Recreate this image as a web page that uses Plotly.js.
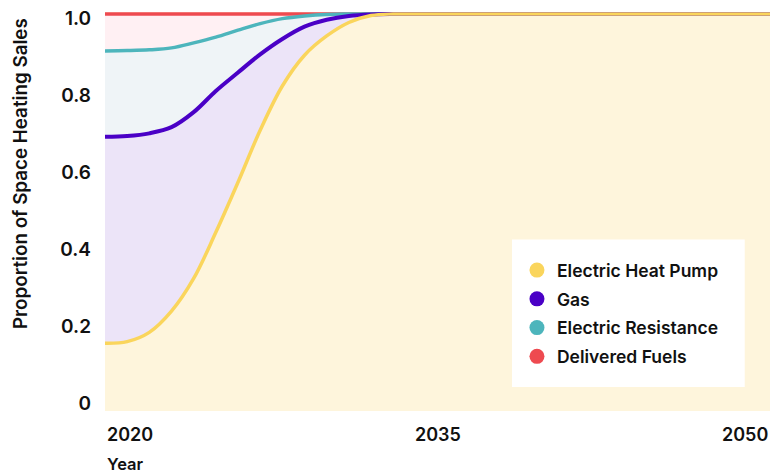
<!DOCTYPE html>
<html>
<head>
<meta charset="utf-8">
<script src="https://cdn.plot.ly/plotly-3.0.1.min.js"></script>
<style>html,body{margin:0;padding:0;background:#fff;}#chart{width:773px;height:475px;}</style>
</head>
<body>
<div id="chart"></div>
<script>
// Years
const years = [];
for (let y = 2020; y <= 2050; y++) years.push(y);

// Shares of space heating sales by technology
const heatPump   = [0.145,0.149,0.173,0.228,0.313,0.433,0.563,0.698,0.813,0.893,0.943,0.978,0.996,1,1,1,1,1,1,1,1,1,1,1,1,1,1,1,1,1,1];
const gas        = [0.536,0.534,0.517,0.478,0.432,0.367,0.285,0.197,0.122,0.074,0.042,0.017,0.003,0,0,0,0,0,0,0,0,0,0,0,0,0,0,0,0,0,0];
const resistance = [0.223,0.222,0.217,0.206,0.180,0.140,0.110,0.080,0.053,0.028,0.014,0.005,0.001,0,0,0,0,0,0,0,0,0,0,0,0,0,0,0,0,0,0];
const delivered  = [0.096,0.095,0.093,0.088,0.075,0.060,0.042,0.025,0.012,0.005,0.001,0,0,0,0,0,0,0,0,0,0,0,0,0,0,0,0,0,0,0,0];

const seriesNames = ['Electric Heat Pump','Gas','Electric Resistance','Delivered Fuels'];
const xTickVals = [2020, 2035, 2050];
const xTickText = ['2020', '2035', '2050'];
const yTickVals = [0, 0.2, 0.4, 0.6, 0.8, 1.0];
const yTickText = ['0', '0.2', '0.4', '0.6', '0.8', '1.0'];

const lineColors = ['#FAD55C', '#4A00C6', '#4DB5BC', '#EE4A50'];
const fillColors = ['#FEF5DC', '#ECE4F8', '#EFF4F7', '#FFF0F3'];
const shares = [heatPump, gas, resistance, delivered];

const FONT = 'Inter, "Noto Sans", sans-serif';
const W = 600;
const traces = [];

// stacked fills
shares.forEach((s, i) => {
  traces.push({
    x: years, y: s, type: 'scatter', mode: 'lines', stackgroup: 'one',
    line: {width: 0, shape: 'spline', smoothing: 1},
    fillcolor: fillColors[i], showlegend: false, hoverinfo: 'skip'
  });
});

// cumulative boundary lines, drawn top series first so heat pump ends on top
const cum = [];
let run = years.map(() => 0);
shares.forEach(s => { run = run.map((v, k) => v + s[k]); cum.push(run.slice()); });
for (let i = 3; i >= 0; i--) {
  traces.push({
    x: years, y: cum[i], type: 'scatter', mode: 'lines',
    line: {width: i === 1 ? 4 : 3.5, color: lineColors[i], shape: 'spline', smoothing: 1},
    showlegend: false, hoverinfo: 'skip'
  });
}

// legend entries (circles)
seriesNames.forEach((n, i) => {
  traces.push({
    x: [null], y: [null], type: 'scatter', mode: 'markers', name: n,
    legendgroup: 'g' + i,
    marker: {size: 15, color: lineColors[i], symbol: 'circle'}
  });
});

const annotations = xTickVals.map((v, i) => ({
  x: v, xref: 'x', y: -0.058, yref: 'paper', text: xTickText[i], showarrow: false,
  xanchor: i === 0 ? 'left' : (i === xTickVals.length - 1 ? 'right' : 'center'),
  yanchor: 'middle', font: {family: FONT, size: 18, color: '#111', weight: W}
}));
annotations.push({
  x: 0, xref: 'paper', y: -0.132, yref: 'paper', text: 'Year', showarrow: false,
  xanchor: 'left', yanchor: 'middle', font: {family: FONT, size: 16.5, color: '#111', weight: W}
});
annotations.push({
  x: -0.128, xref: 'paper', y: 0.596, yref: 'paper', text: 'Proportion of Space Heating Sales',
  showarrow: false, textangle: -90, xanchor: 'center', yanchor: 'middle',
  font: {family: FONT, size: 18.8, color: '#111', weight: W}
});

const layout = {
  width: 773, height: 475,
  margin: {l: 105, r: 3, t: 12, b: 64},
  paper_bgcolor: '#ffffff',
  plot_bgcolor: '#FEF5DC',
  xaxis: {range: [2020, 2050], showgrid: false, zeroline: false, showline: false,
          showticklabels: false, ticks: '', fixedrange: true},
  yaxis: {range: [-0.0312, 1.0052], tickvals: yTickVals, ticktext: yTickText,
          showgrid: false, zeroline: false, showline: false, ticks: '',
          ticklabelstandoff: 13, ticklabelshift: 4,
          tickfont: {family: FONT, size: 19, color: '#111', weight: W}},
  shapes: [{type: 'rect', xref: 'paper', yref: 'paper', x0: 0.612, x1: 0.962, y0: 0.060, y1: 0.4297,
            fillcolor: '#ffffff', line: {width: 0}, layer: 'above'}],
  showlegend: true,
  legend: {x: 0.6195, y: 0.398, xanchor: 'left', yanchor: 'top', bgcolor: 'rgba(0,0,0,0)',
           borderwidth: 0, traceorder: 'grouped', tracegroupgap: 3,
           font: {family: FONT, size: 17.5, color: '#111', weight: W}},
  annotations: annotations
};

Plotly.newPlot('chart', traces, layout, {displayModeBar: false, staticPlot: true});
</script>
</body>
</html>
